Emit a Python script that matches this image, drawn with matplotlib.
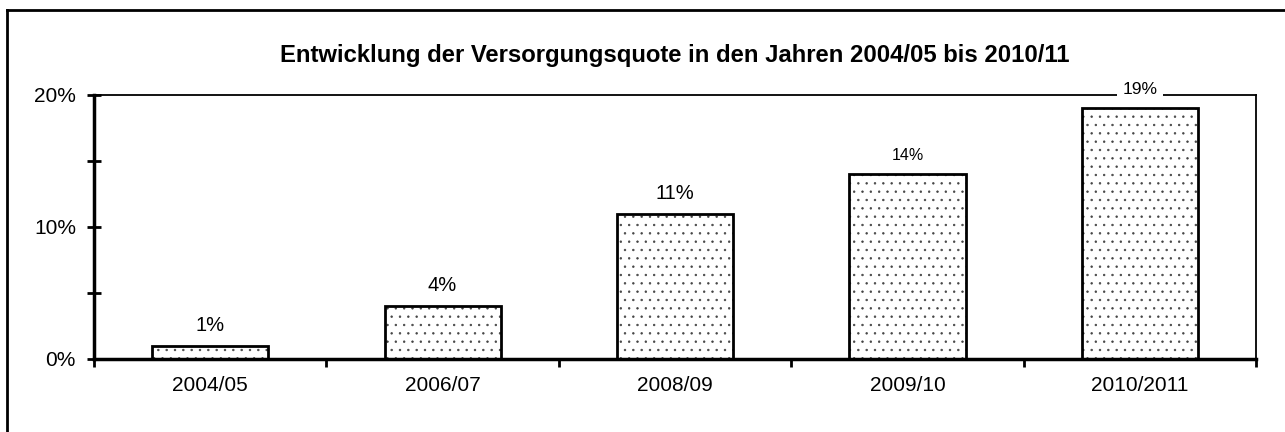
import numpy as np
import matplotlib.pyplot as plt
from matplotlib.ticker import MultipleLocator, FuncFormatter

# Data
jahre = ["2004/05", "2006/07", "2008/09", "2009/10", "2010/2011"]
quote = [1, 4, 11, 14, 19]
label_size = [14.5, 14.5, 14.5, 11.5, 12.5]

plt.rcParams['font.family'] = ['Liberation Sans', 'DejaVu Sans']

fig = plt.figure(figsize=(12.85, 4.32), dpi=100)
ax = fig.add_axes([94 / 1285, 1 - 359 / 432, 1162 / 1285, 264 / 432])

x = np.arange(len(jahre))
# dotted fill (grey dots) and black outline drawn separately
fill = ax.bar(x, quote, width=0.5, color="white", edgecolor="#444444",
              linewidth=0, hatch="..", zorder=2)
for b in fill:
    b.set_hatch_linewidth(0.5)
ax.bar(x, quote, width=0.5, fill=False, edgecolor="black", linewidth=2, zorder=3)

# value labels above the bars
for xi, v, fs in zip(x, quote, label_size):
    ax.annotate(f"{v}%", (xi, v), xytext=(0, 8), textcoords="offset points",
                ha="center", va="bottom", fontsize=fs, zorder=5,
                bbox=dict(facecolor="white", edgecolor="none", pad=4))

ax.set_xlim(-0.5, len(jahre) - 0.5)
ax.set_ylim(0, 20)
ax.yaxis.set_major_locator(MultipleLocator(10))
ax.yaxis.set_minor_locator(MultipleLocator(5))
ax.yaxis.set_major_formatter(FuncFormatter(lambda v, p: f"{v:.0f}%"))
ax.tick_params(axis="y", which="both", direction="inout", length=10,
               width=2, labelsize=15, pad=8)

# category labels centred, ticks on category borders
ax.set_xticks(x)
ax.set_xticklabels(jahre, fontsize=15)
ax.tick_params(axis="x", which="major", length=0, pad=12)
ax.set_xticks(np.arange(len(jahre) + 1) - 0.5, minor=True)
ax.tick_params(axis="x", which="minor", direction="out", length=6, width=2)

ax.spines["left"].set_linewidth(2.5)
ax.spines["bottom"].set_linewidth(2.5)
ax.spines["top"].set_linewidth(1.3)
ax.spines["right"].set_linewidth(1.3)

ax.set_title("Entwicklung der Versorgungsquote in den Jahren 2004/05 bis 2010/11",
             fontsize=17.2, fontweight="bold", pad=24)

# outer chart frame (only left and top edges are visible)
fig.add_artist(plt.Line2D([7 / 1285, 7 / 1285], [0, 1 - 10 / 432],
                          color="black", linewidth=2, transform=fig.transFigure))
fig.add_artist(plt.Line2D([7 / 1285, 1], [1 - 10 / 432, 1 - 10 / 432],
                          color="black", linewidth=2, transform=fig.transFigure))

plt.savefig("out.png", dpi=100)
